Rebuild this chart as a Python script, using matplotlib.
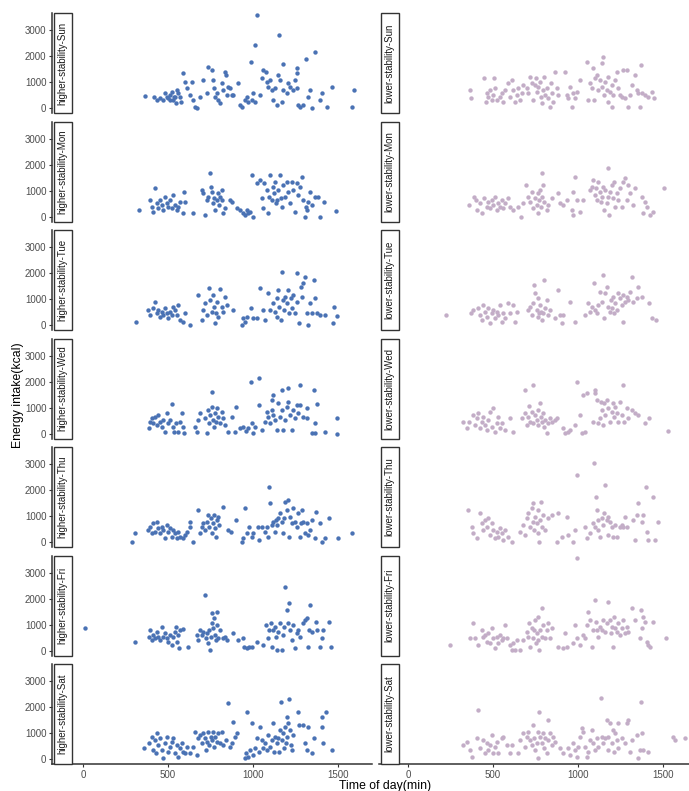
import matplotlib
matplotlib.use("Agg")
import matplotlib.pyplot as plt
from matplotlib.patches import Rectangle

plt.rcParams['font.family'] = ['Liberation Sans', 'DejaVu Sans']

# (time of day in min, energy intake in kcal)
hs_sun = [(365,475),(420,436),(433,308),(453,372),(492,410),(512,500),(531,308),(541,436),(551,692),(561,564),
          (575,244),(590,1333),(600,1013),(610,756),(630,500),(639,1013),(649,308),(659,26),(673,0),(688,436),
          (708,1077),(727,564),(737,1590),(757,1462),(767,1077),(773,756),(776,436),(786,564),(796,308),(806,180),
          (816,949),(825,692),(835,1397),(839,1269),(845,500),(855,821),(865,756),(875,500),(884,500),(914,949),
          (924,115),(933,51),(953,308),(963,436),(972,244),(992,308),(1002,564),(1012,244),(1025,3577),(1155,2808),
          (1014,2423),(1365,2166),(1310,1872),(986,1782),(1178,1680),(1257,1526),(1041,500),(1051,1141),(1061,1462),
          (1077,1397),(1080,1013),(1090,821),(1100,1077),(1110,692),(1120,308),(1130,756),(1139,115),(1149,1269),
          (1159,1077),(1169,244),(1179,692),(1198,564),(1208,949),(1218,821),(1237,692),(1247,1077),(1257,1333),
          (1261,756),(1267,115),(1277,51),(1296,115),(1326,436),(1335,692),(1345,0),(1394,308),(1404,564),(1433,51),
          (1463,821),(1580,51),(1594,692),(512,308),(482,564),(522,628),(570,436),(545,180),(472,308),(502,372),(535,436)]

hs_mon = [(329,250),(394,635),(404,379),(414,186),(423,1084),(433,507),(443,314),(453,635),(463,443),(472,250),
          (482,763),(492,507),(502,379),(512,635),(522,314),(531,827),(541,443),(551,250),(561,379),(570,571),
          (590,122),(596,955),(600,571),(645,122),(698,1020),(708,891),(718,58),(727,635),(737,763),(747,1660),
          (751,1148),(757,955),(767,507),(771,699),(776,250),(786,635),(796,891),(802,443),(806,763),(816,1020),
          (820,635),(825,122),(835,314),(865,635),(875,571),(904,314),(924,250),(939,122),(953,58),(963,250),
          (973,122),(982,186),(992,1596),(1002,0),(1022,1276),(1041,1404),(1051,699),(1061,314),(1067,1301),(1080,1020),
          (1090,122),(1096,763),(1100,1596),(1110,635),(1120,1148),(1126,891),(1130,1340),(1136,507),(1139,635),(1149,1020),
          (1159,1596),(1163,699),(1169,379),(1179,1212),(1188,763),(1198,1340),(1208,955),(1218,507),(1227,1340),(1237,1020),
          (1247,186),(1257,1276),(1267,827),(1277,1148),(1286,1532),(1296,635),(1306,0),(1312,379),(1320,250),(1326,571),
          (1335,955),(1345,443),(1365,763),(1384,763),(1394,0),(1420,571),(1488,212)]

hs_tue = [(310,103),(384,577),(394,385),(410,642),(423,898),(433,449),(443,577),(453,321),(463,513),(472,385),
          (482,642),(492,449),(502,257),(512,513),(522,385),(531,705),(541,577),(551,385),(561,770),(570,193),
          (586,129),(600,449),(629,0),(679,1154),(698,193),(708,577),(718,834),(727,385),(741,1410),(747,962),
          (757,513),(763,1154),(771,705),(776,64),(782,449),(790,898),(796,321),(806,1372),(816,705),(825,513),
          (835,1090),(845,770),(884,577),(933,0),(943,257),(953,129),(963,321),(986,642),(1002,257),(1022,257),
          (1041,1410),(1061,577),(1071,193),(1090,1218),(1100,577),(1120,834),(1130,513),(1139,1026),(1143,321),(1149,1346),
          (1155,705),(1163,193),(1169,2051),(1175,962),(1182,577),(1188,1090),(1198,834),(1208,1346),(1214,449),(1221,1026),
          (1227,642),(1237,1154),(1247,449),(1257,1987),(1261,898),(1272,64),(1280,1474),(1286,1090),(1296,1603),(1306,1859),
          (1316,449),(1326,0),(1335,834),(1345,449),(1359,1731),(1365,1026),(1374,449),(1394,385),(1424,385),(1469,64),
          (1477,705),(1492,347)]

hs_wed = [(757,1610),(986,2000),(1037,2122),(1120,1481),(1169,1673),(1208,1738),(1277,1866),(1359,1673),(1114,1290),
          (390,199),(394,455),(404,583),(414,391),(423,647),(433,327),(443,711),(453,455),(463,263),(472,519),
          (482,71),(492,776),(502,391),(512,519),(522,1135),(527,263),(535,71),(547,391),(561,71),(570,455),
          (580,801),(586,263),(594,32),(659,263),(669,71),(679,519),(688,776),(718,583),(727,6),(737,904),
          (743,391),(747,711),(757,1032),(763,519),(771,263),(776,776),(782,455),(790,968),(796,647),(806,391),
          (816,840),(825,583),(835,327),(855,71),(875,647),(894,71),(900,1032),(924,199),(943,263),(959,109),
          (973,199),(992,391),(1002,32),(1012,263),(1037,1096),(1051,135),(1071,455),(1080,840),(1090,647),(1100,391),
          (1110,904),(1120,711),(1130,519),(1139,135),(1149,1160),(1159,647),(1169,904),(1179,135),(1188,519),(1198,1032),
          (1208,1224),(1218,711),(1227,135),(1237,904),(1247,583),(1257,1096),(1267,776),(1277,1096),(1296,647),(1316,968),
          (1320,583),(1345,6),(1365,391),(1365,6),(1378,1135),(1424,71),(1492,583),(1496,0)]

hs_thu = [(286,13),(306,333),(384,461),(394,590),(404,333),(414,718),(423,397),(433,782),(443,525),(453,333),
          (463,590),(472,461),(482,141),(492,654),(502,397),(512,525),(522,205),(531,461),(541,333),(551,141),
          (561,397),(570,205),(590,141),(600,269),(610,397),(629,782),(629,590),(645,13),(675,1231),(688,333),
          (698,590),(708,718),(718,461),(727,782),(737,1038),(743,590),(751,910),(757,333),(763,718),(771,1038),
          (776,525),(782,205),(790,846),(796,974),(802,654),(822,1333),(855,461),(869,397),(900,846),(933,13),
          (943,141),(953,1295),(963,333),(978,590),(992,205),(1002,333),(1031,590),(1037,77),(1051,590),(1071,397),
          (1080,590),(1090,205),(1096,2128),(1100,1487),(1110,654),(1120,782),(1130,397),(1136,846),(1143,654),(1149,910),
          (1159,1103),(1169,782),(1179,333),(1182,910),(1188,1551),(1198,1231),(1208,1615),(1214,205),(1218,974),(1227,718),
          (1237,1295),(1247,782),(1257,590),(1267,1103),(1277,205),(1280,718),(1286,1231),(1296,782),(1306,333),(1316,718),
          (1326,269),(1335,461),(1345,846),(1365,141),(1371,1167),(1394,718),(1404,13),(1424,141),(1449,910),(1502,141),
          (1580,333)]

hs_fri = [(12,853),(306,314),(390,532),(394,789),(404,404),(414,596),(423,468),(433,724),(443,532),(453,404),
          (463,917),(472,532),(482,660),(492,468),(502,340),(512,596),(522,212),(531,532),(541,724),(547,917),
          (551,340),(561,596),(566,84),(570,789),(586,814),(620,122),(669,596),(679,404),(688,789),(698,596),
          (708,724),(718,2135),(724,468),(731,660),(737,276),(743,789),(747,19),(751,532),(757,1045),(761,1430),
          (767,853),(771,1237),(776,596),(780,404),(786,1494),(790,981),(796,468),(806,789),(825,468),(835,532),
          (845,404),(884,660),(914,404),(943,468),(947,147),(963,84),(978,147),(992,147),(1022,340),(1061,212),
          (1077,981),(1090,468),(1096,789),(1104,1045),(1110,147),(1120,789),(1130,917),(1136,532),(1143,19),(1149,724),
          (1159,1045),(1169,19),(1175,596),(1182,917),(1188,2430),(1198,1558),(1204,1045),(1210,1814),(1218,789),(1227,404),
          (1237,981),(1247,84),(1257,660),(1267,789),(1277,532),(1292,1045),(1306,1173),(1320,1237),(1326,147),(1331,789),
          (1335,1750),(1345,724),(1371,1109),(1374,789),(1394,147),(1404,468),(1414,789),(1449,1109),(1457,122)]

hs_sat = [(359,410),(390,603),(404,859),(414,346),(423,731),(429,218),(433,987),(443,539),(453,795),(463,346),
          (472,26),(482,603),(492,859),(502,282),(512,475),(522,667),(531,795),(541,218),(551,539),(561,90),
          (570,410),(580,603),(590,282),(600,218),(610,475),(629,218),(649,475),(659,1051),(669,154),(679,795),
          (688,923),(698,603),(708,987),(718,795),(724,346),(731,667),(737,1051),(743,539),(751,859),(757,731),
          (763,1051),(771,475),(776,859),(786,667),(796,987),(806,603),(816,1051),(825,539),(841,731),(855,2141),
          (865,475),(875,603),(884,1436),(894,859),(904,987),(953,26),(959,218),(963,1821),(973,90),(982,346),
          (992,1372),(1002,154),(1012,410),(1022,795),(1037,282),(1041,1244),(1051,731),(1061,410),(1071,603),(1080,346),
          (1090,923),(1100,475),(1110,731),(1116,1372),(1124,282),(1130,859),(1139,603),(1149,795),(1155,282),(1159,1115),
          (1165,2205),(1169,731),(1175,987),(1182,410),(1188,1244),(1194,603),(1198,1628),(1202,859),(1208,1372),(1214,2295),
          (1218,1115),(1221,539),(1227,346),(1237,923),(1267,1821),(1272,1308),(1292,1308),(1306,603),(1316,346),(1326,1244),
          (1349,218),(1359,795),(1404,1244),(1404,1628),(1414,603),(1429,1821),(1463,346)]

ls_sun = [(365,693),(371,372),(449,1141),(457,244),(463,564),(473,436),(482,693),(492,308),(502,500),(508,1141),
          (512,757),(522,308),(541,436),(551,564),(561,244),(571,693),(590,949),(600,436),(610,1077),(620,693),
          (629,244),(639,500),(649,757),(659,308),(669,564),(679,885),(698,757),(708,564),(718,1205),(728,949),
          (737,308),(747,885),(753,1141),(757,629),(767,821),(777,1013),(782,436),(786,180),(796,693),(802,1205),
          (806,500),(816,757),(826,372),(835,51),(841,949),(845,564),(855,244),(865,1397),(875,757),(884,500),
          (924,1397),(934,500),(943,372),(953,821),(963,51),(973,564),(982,372),(992,629),(1012,1077),(1051,1782),
          (1057,308),(1071,949),(1080,757),(1090,1526),(1096,308),(1100,1141),(1110,1269),(1120,693),(1130,1077),(1139,821),
          (1143,1718),(1149,1974),(1155,500),(1159,1013),(1169,693),(1174,244),(1178,1205),(1188,629),(1198,885),(1202,51),
          (1208,500),(1218,1077),(1227,1397),(1237,757),(1247,500),(1257,436),(1267,1462),(1277,372),(1286,1462),(1296,51),
          (1306,500),(1316,885),(1335,1269),(1345,693),(1355,564),(1365,51),(1371,1654),(1374,564),(1394,500),(1414,436),
          (1433,629),(1449,372)]

ls_mon = [(359,443),(390,763),(398,635),(404,250),(424,507),(437,122),(449,699),(463,379),(473,571),(482,314),
          (492,635),(502,443),(512,763),(522,250),(531,507),(541,379),(551,635),(561,314),(571,507),(590,699),
          (600,379),(620,250),(649,379),(665,0),(679,507),(692,1212),(704,763),(718,571),(728,955),(737,314),
          (747,699),(757,443),(763,891),(767,122),(771,635),(777,1020),(782,379),(786,1660),(790,763),(796,1212),
          (802,571),(816,250),(826,443),(845,699),(884,891),(894,507),(914,443),(934,635),(963,250),(969,955),
          (973,58),(982,1532),(992,635),(1012,186),(1031,635),(1071,1020),(1080,1148),(1090,1404),(1100,827),(1106,1084),
          (1110,635),(1120,1340),(1130,955),(1135,571),(1139,763),(1149,1148),(1155,250),(1159,1020),(1169,507),(1175,1853),
          (1178,763),(1182,58),(1188,955),(1198,1212),(1208,699),(1214,1340),(1218,379),(1227,891),(1237,635),(1247,1084),
          (1257,379),(1267,1340),(1277,1468),(1286,635),(1296,1212),(1306,891),(1326,443),(1335,1084),(1374,763),(1384,122),
          (1394,571),(1404,379),(1424,58),(1443,186),(1508,1084)]

ls_tue = [(222,385),(371,449),(384,577),(414,642),(424,385),(437,193),(443,770),(453,513),(463,321),(473,642),
          (482,64),(492,449),(502,577),(512,257),(522,513),(531,385),(541,770),(551,129),(561,449),(571,257),
          (590,834),(600,449),(620,770),(629,129),(639,513),(708,577),(718,705),(728,385),(737,834),(743,1538),
          (747,1218),(757,577),(763,1026),(767,321),(771,449),(777,770),(782,513),(786,193),(796,449),(802,1731),
          (806,642),(816,962),(826,385),(835,577),(865,257),(884,1346),(894,385),(904,64),(914,385),(953,898),
          (982,129),(1041,385),(1061,834),(1071,513),(1080,705),(1096,1603),(1100,577),(1110,449),(1120,770),(1130,1282),
          (1139,898),(1149,1923),(1155,257),(1159,1218),(1169,1474),(1178,705),(1188,513),(1194,962),(1198,642),(1208,1090),
          (1214,449),(1218,834),(1227,577),(1237,1218),(1247,1026),(1257,770),(1263,129),(1267,1154),(1277,898),(1286,1090),
          (1296,962),(1306,1282),(1316,1859),(1326,898),(1345,1026),(1355,1474),(1374,1090),(1418,834),(1433,257),(1457,193)]

ls_wed = [(688,1673),(737,1866),(992,2000),(1031,1481),(1100,1673),(1267,1866),
          (326,455),(345,199),(359,455),(384,711),(394,327),(404,583),(414,776),(424,199),(433,455),(443,647),
          (453,327),(463,135),(473,519),(482,840),(492,263),(502,968),(512,71),(522,391),(531,647),(541,199),
          (551,391),(571,135),(600,583),(620,71),(669,583),(688,776),(698,327),(708,647),(714,1058),(718,455),
          (728,840),(737,391),(747,711),(757,519),(763,904),(767,327),(777,1186),(782,647),(786,455),(796,776),
          (802,263),(806,519),(816,6),(826,391),(835,583),(845,455),(865,519),(875,583),(914,199),(924,6),
          (939,71),(953,135),(982,327),(1012,711),(1022,6),(1041,71),(1051,1545),(1090,455),(1100,1545),(1110,1288),
          (1120,391),(1130,583),(1135,1224),(1139,904),(1149,327),(1155,1160),(1159,711),(1169,1288),(1178,968),(1188,455),
          (1198,840),(1208,1160),(1214,647),(1218,1032),(1227,776),(1237,455),(1247,1224),(1257,711),(1273,455),(1286,968),
          (1296,583),(1316,904),(1335,776),(1355,711),(1394,391),(1418,583),(1527,109)]

ls_thu = [(355,1231),(375,590),(384,333),(404,141),(424,1103),(433,718),(443,461),(453,846),(463,590),(473,910),
          (482,269),(492,718),(502,461),(512,141),(522,397),(531,205),(541,525),(551,333),(561,77),(571,461),
          (590,205),(610,13),(659,397),(679,654),(688,269),(698,910),(708,1103),(718,590),(728,1295),(733,782),
          (737,1487),(743,461),(747,974),(757,718),(763,1231),(767,333),(771,13),(777,846),(782,1551),(786,590),
          (796,1038),(806,461),(826,910),(845,1038),(875,13),(884,1103),(904,205),(934,974),(943,269),(973,13),
          (982,461),(992,2577),(1041,590),(1051,141),(1071,333),(1090,718),(1096,3026),(1100,590),(1106,1744),
          (1110,1231),(1116,846),(1120,461),(1130,205),(1139,910),(1149,654),(1155,1103),(1159,2192),(1169,846),(1174,269),
          (1178,974),(1188,782),(1198,590),(1208,205),(1218,654),(1227,205),(1247,590),(1257,654),(1267,590),(1277,974),
          (1286,590),(1326,846),(1335,77),(1345,1038),(1355,1487),(1374,782),(1384,1038),(1398,2128),(1404,397),(1414,77),
          (1443,1744),(1453,77),(1472,782)]

ls_fri = [(992,3560),(247,212),(365,468),(384,1045),(394,468),(410,212),(433,789),(443,532),(453,596),(463,340),(473,660),
          (482,276),(492,853),(502,468),(512,84),(522,532),(531,276),(541,596),(551,404),(561,468),(571,981),
          (580,468),(600,212),(610,19),(620,276),(629,19),(639,404),(659,19),(679,404),(698,724),(708,532),
          (714,1045),(718,147),(728,853),(737,468),(743,789),(747,1173),(753,276),(757,660),(763,1301),(767,404),
          (771,19),(777,789),(786,1622),(790,532),(796,981),(806,468),(816,789),(826,1045),(835,468),(845,853),
          (884,147),(914,84),(924,660),(934,147),(973,276),(982,981),(992,468),(1012,212),(1031,596),(1041,468),
          (1051,981),(1061,1494),(1071,1173),(1080,147),(1090,789),(1100,1942),(1106,1109),(1110,789),(1120,532),(1130,917),
          (1139,789),(1149,1173),(1159,724),(1169,1045),(1178,1878),(1188,1173),(1194,660),(1198,917),(1208,147),(1214,1301),
          (1218,853),(1227,724),(1237,1045),(1247,596),(1257,853),(1267,1173),(1277,660),(1286,917),(1296,724),(1316,1622),
          (1335,1173),(1365,468),(1371,1558),(1374,853),(1384,1301),(1394,1109),(1404,340),(1414,212),(1424,147),(1443,1109),
          (1516,468)]

ls_sat = [(326,539),(345,667),(365,346),(375,90),(404,795),(414,1885),(424,410),(443,731),(453,218),(463,603),
          (473,346),(482,539),(492,923),(502,218),(512,475),(522,667),(531,218),(551,795),(561,859),(580,539),
          (600,218),(610,539),(649,218),(659,731),(679,987),(688,475),(698,859),(708,1051),(718,731),(728,539),
          (737,1308),(743,795),(747,346),(757,603),(763,1051),(767,26),(771,1821),(777,859),(786,603),(796,987),
          (802,410),(806,795),(816,218),(822,1500),(826,731),(835,987),(845,539),(855,859),(865,667),(894,410),
          (914,218),(943,410),(953,154),(973,603),(982,346),(992,90),(1002,475),(1012,859),(1022,1180),(1031,1051),
          (1041,475),(1051,90),(1061,282),(1071,731),(1080,1115),(1090,603),(1100,346),(1110,795),(1120,475),(1133,2333),
          (1139,859),(1149,603),(1159,795),(1169,1500),(1175,346),(1178,859),(1188,1372),(1198,603),(1208,1115),(1214,282),
          (1218,987),(1227,731),(1233,1372),(1237,410),(1257,795),(1277,603),(1286,1372),(1296,1500),(1306,282),(1316,731),
          (1345,923),(1355,26),(1365,346),(1371,2205),(1374,987),(1384,346),(1414,282),(1561,859),(1571,731),(1629,795)]

days = ["Sun", "Mon", "Tue", "Wed", "Thu", "Fri", "Sat"]
higher = [hs_sun, hs_mon, hs_tue, hs_wed, hs_thu, hs_fri, hs_sat]
lower = [ls_sun, ls_mon, ls_tue, ls_wed, ls_thu, ls_fri, ls_sat]

blue = "#4a72b4"
mauve = "#c3adc7"
dark = "#333333"

W, H = 689, 791
fig = plt.figure(figsize=(W / 100, H / 100), dpi=100)

panel_w, panel_h, step = 320, 100, 108.5
cols = [
    # left px, xlim, group label, data, colour
    (52, (-182, 1700), "higher-stability", higher, blue),
    (379, (-171, 1712), "lower-stability", lower, mauve),
]

for c, (left_px, xlim, group, series, color) in enumerate(cols):
    for r, day in enumerate(days):
        top_px = 13 + step * r
        ax = fig.add_axes([left_px / W, 1 - (top_px + panel_h) / H, panel_w / W, panel_h / H])
        pts = series[r]
        ax.scatter([p[0] for p in pts], [p[1] for p in pts], s=10, color=color,
                   linewidths=0, zorder=3)
        ax.set_xlim(*xlim)
        ax.set_ylim(-192, 3654)
        for s in ["top", "right"]:
            ax.spines[s].set_visible(False)
        ax.spines["left"].set_visible(c == 0)
        ax.spines["bottom"].set_visible(r == 6)
        for s in ["left", "bottom"]:
            ax.spines[s].set_color(dark)
            ax.spines[s].set_linewidth(1.1)
        ax.set_yticks([0, 1000, 2000, 3000])
        ax.set_xticks([0, 500, 1000, 1500])
        ax.tick_params(axis="both", length=2.5, width=0.8, color=dark, pad=1.5,
                       labelsize=7, labelcolor="#4d4d4d")
        if c != 0:
            ax.tick_params(axis="y", left=False, labelleft=False)
        if r != 6:
            ax.tick_params(axis="x", bottom=False, labelbottom=False)
        # facet strip on the left of each panel
        x0 = 1.5 / panel_w
        sw = 18 / panel_w
        ax.add_patch(Rectangle((x0, 0), sw, 1, transform=ax.transAxes, facecolor="white",
                               edgecolor=dark, linewidth=1.0, clip_on=False, zorder=4))
        ax.text(x0 + sw / 2, 0.5, f"{group}-{day}", transform=ax.transAxes, rotation=90,
                ha="center", va="center", fontsize=7, color="#1a1a1a", zorder=5)

fig.text(18 / W, 1 - 395 / H, "Energy intake(kcal)", rotation=90, ha="center", va="center",
         fontsize=8.8, color="black")
fig.text(385 / W, 1 - 786 / H, "Time of day(min)", ha="center", va="center",
         fontsize=8.8, color="black")

fig.savefig("out.png", dpi=100)
